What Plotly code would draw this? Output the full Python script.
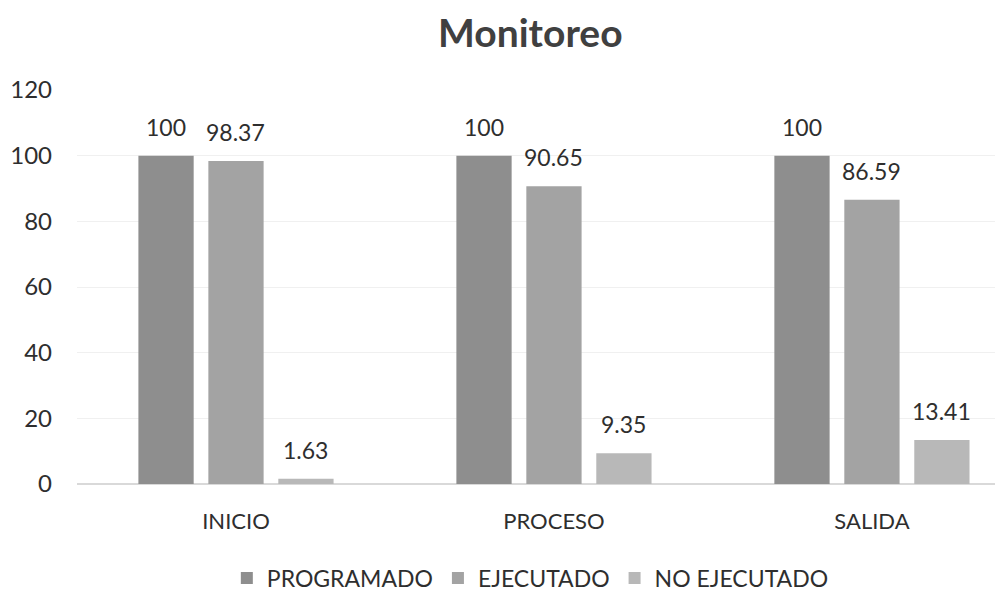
import plotly.graph_objects as go

categories = ["INICIO", "PROCESO", "SALIDA"]
series_names = ["PROGRAMADO", "EJECUTADO", "NO EJECUTADO"]
programado = [100, 100, 100]
ejecutado = [98.37, 90.65, 86.59]
no_ejecutado = [1.63, 9.35, 13.41]
y_ticks = [0, 20, 40, 60, 80, 100, 120]

series_values = [programado, ejecutado, no_ejecutado]
colors = ["#8e8e8e", "#a3a3a3", "#b8b8b8"]
FONT = "Lato, 'Open Sans', sans-serif"
TXT = "#2e2e2e"

fig = go.Figure()
for name, vals, col in zip(series_names, series_values, colors):
    fig.add_trace(go.Bar(
        x=categories, y=vals, name=name,
        marker=dict(color=col, line=dict(width=0)),
    ))

# data labels
offsets = [-70, 0, 70]
annotations = []
for vals, dx in zip(series_values, offsets):
    for c, v in zip(categories, vals):
        annotations.append(dict(
            x=c, y=v, xref="x", yref="y", text=f"{v:g}",
            showarrow=False, xshift=dx, yshift=13, yanchor="bottom",
            font=dict(family=FONT, size=23, color=TXT),
        ))

fig.update_layout(
    width=995, height=591,
    paper_bgcolor="white", plot_bgcolor="white",
    margin=dict(l=77, r=0, t=90, b=107),
    title=dict(text="<b>Monitoreo</b>", x=0.533, xanchor="center", xref="container",
               y=1 - 33 / 591, yanchor="middle", yref="container",
               font=dict(family=FONT, size=39, color="#404040")),
    barmode="group", bargap=0.34, bargroupgap=0.21,
    xaxis=dict(range=[-0.5, 2.387], showgrid=False, showline=False, ticks="",
               ticklabelstandoff=22,
               tickfont=dict(family=FONT, size=22, color=TXT)),
    yaxis=dict(range=[0, 120], tickvals=y_ticks, showgrid=True, gridcolor="#f0f0f0",
               zeroline=True, zerolinecolor="#d9d9d9", ticks="", ticklabelstandoff=24,
               tickfont=dict(family=FONT, size=24, color=TXT)),
    legend=dict(orientation="h", x=0.533, xanchor="center", xref="container",
                y=1 - 578 / 591, yanchor="middle", yref="container",
                font=dict(family=FONT, size=23, color=TXT), itemwidth=30),
    annotations=annotations,
    showlegend=True,
)

fig.write_html("out.html", config={"displayModeBar": False},
               post_script="document.body.style.margin='0px';")
